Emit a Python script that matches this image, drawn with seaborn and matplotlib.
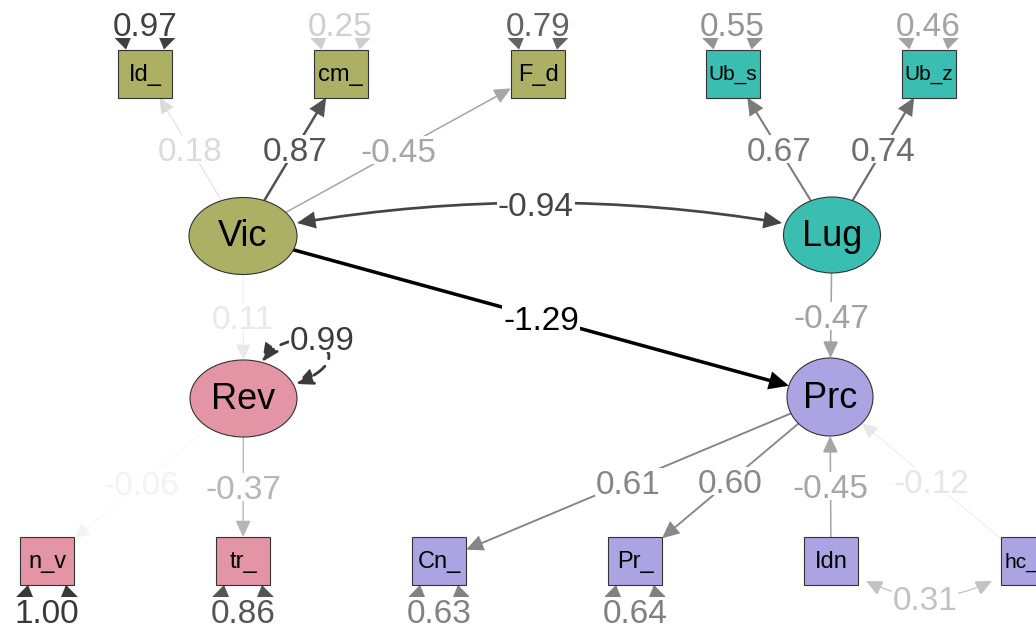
import numpy as np
import matplotlib
matplotlib.use("Agg")
import matplotlib.pyplot as plt
from matplotlib.patches import Ellipse, Rectangle, FancyArrowPatch, ArrowStyle
from matplotlib.path import Path
import seaborn as sns

# ---- model structure -------------------------------------------------------
latent_names = ["Vic", "Lug", "Rev", "Prc"]
manifest_names = ["Id_", "cm_", "F_d", "Ub_s", "Ub_z",
                  "n_v", "tr_", "Cn_", "Pr_", "Idn", "hc_"]
node_group = {"Vic": "Vic", "Id_": "Vic", "cm_": "Vic", "F_d": "Vic",
              "Lug": "Lug", "Ub_s": "Lug", "Ub_z": "Lug",
              "Rev": "Rev", "n_v": "Rev", "tr_": "Rev",
              "Prc": "Prc", "Cn_": "Prc", "Pr_": "Prc", "Idn": "Prc", "hc_": "Prc"}

# directed paths (standardised estimates)
path_from = ["Vic", "Vic", "Vic", "Lug", "Lug", "Vic", "Vic", "Lug",
             "Rev", "Rev", "Prc", "Prc", "Idn", "hc_"]
path_to = ["Id_", "cm_", "F_d", "Ub_s", "Ub_z", "Rev", "Prc", "Prc",
           "n_v", "tr_", "Cn_", "Pr_", "Prc", "Prc"]
path_est = [0.18, 0.87, -0.45, 0.67, 0.74, 0.11, -1.29, -0.47,
            -0.06, -0.37, 0.61, 0.60, -0.45, -0.12]

# covariances
cov_a = ["Vic", "Idn"]
cov_b = ["Lug", "hc_"]
cov_est = [-0.94, 0.31]

# residual variances
resid_names = ["Id_", "cm_", "F_d", "Ub_s", "Ub_z", "n_v", "tr_", "Cn_", "Pr_", "Rev"]
resid_est = [0.97, 0.25, 0.79, 0.55, 0.46, 1.00, 0.86, 0.63, 0.64, 0.99]

# ---- layout (canvas pixels, y downwards) -----------------------------------
layout = {
    "Id_": (145, 73.5), "cm_": (340.5, 73.5), "F_d": (538, 73.5),
    "Ub_s": (732.5, 73.5), "Ub_z": (928.5, 73.5),
    "Vic": (243, 236), "Lug": (832, 235), "Rev": (243.5, 398.5), "Prc": (830, 397),
    "n_v": (47, 561), "tr_": (243, 561), "Cn_": (439, 561), "Pr_": (635, 561),
    "Idn": (831, 561), "hc_": (1028, 561),
}
ell_size = {"Vic": (108, 77), "Lug": (97, 76), "Rev": (107, 77), "Prc": (86, 78)}
box_w, box_h = 54, 48
man_font = {"Ub_s": 15, "Ub_z": 15, "hc_": 15}
# the right-most box runs off the canvas; its name is set flush left inside it
man_text_left = {"hc_": 1004}

sns.set_theme(style="white")
plt.rcParams["font.family"] = ["Liberation Sans", "DejaVu Sans"]
group_order = ["Rev", "Vic", "Lug", "Prc"]
palette = dict(zip(group_order, sns.color_palette(["#E495A5", "#ABB065", "#39BEB1", "#ACA4E2"])))

fig = plt.figure(figsize=(10.36, 6.30), dpi=100)
ax = fig.add_axes([0, 0, 1, 1])
ax.set_xlim(0, 1036)
ax.set_ylim(630, 0)
ax.axis("off")

max_abs = max(abs(v) for v in path_est + cov_est + resid_est)
PT = 0.72  # points per pixel at 100 dpi


def grey(v):
    g = 1 - abs(v) / max_abs
    return (g, g, g)


def width(v):
    return (0.5 + 3.0 * abs(v) / max_abs) * PT


def boundary(name, toward):
    cx, cy = layout[name]
    dx, dy = toward[0] - cx, toward[1] - cy
    d = np.hypot(dx, dy)
    ux, uy = dx / d, dy / d
    if name in latent_names:
        a, b = ell_size[name][0] / 2, ell_size[name][1] / 2
        s = 1 / np.sqrt((ux / a) ** 2 + (uy / b) ** 2)
    else:
        sx = (box_w / 2) / abs(ux) if ux else np.inf
        sy = (box_h / 2) / abs(uy) if uy else np.inf
        s = min(sx, sy)
    return cx + ux * s, cy + uy * s


def arrow(verts, codes, style, v, dashed=False, hl=14, hw=6.5):
    st = ArrowStyle(style, head_length=hl * PT, head_width=hw * PT)
    p = FancyArrowPatch(path=Path(verts, codes), arrowstyle=st, mutation_scale=1,
                        color=grey(v), lw=width(v), zorder=1,
                        linestyle=(0, (5, 3)) if dashed else "-", joinstyle="miter")
    ax.add_patch(p)


edge_labels = []


def label(x, y, v):
    # (x, y) is the visual centre of the digits; the text anchor sits a little lower
    t = ax.text(x, y + 3.5, f"{v:.2f}", fontsize=24, color=grey(v), ha="center",
                va="center", zorder=4)
    edge_labels.append((t, x, y))


# ---- directed paths --------------------------------------------------------
for a, b, v in zip(path_from, path_to, path_est):
    p0 = boundary(a, layout[b])
    p1 = boundary(b, layout[a])
    arrow([p0, p1], [Path.MOVETO, Path.LINETO], "-|>", v)
    label((p0[0] + p1[0]) / 2, (p0[1] + p1[1]) / 2, v)

# ---- covariances -----------------------------------------------------------
cov_curves = {("Vic", "Lug"): [(297, 223), (540, 183), (782, 223)],
              ("Idn", "hc_"): [(866, 581), (929, 612), (992, 581)]}
for a, b, v in zip(cov_a, cov_b, cov_est):
    verts = cov_curves[(a, b)]
    arrow(verts, [Path.MOVETO, Path.CURVE3, Path.CURVE3], "<|-|>", v)
    mx = 0.25 * verts[0][0] + 0.5 * verts[1][0] + 0.25 * verts[2][0]
    my = 0.25 * verts[0][1] + 0.5 * verts[1][1] + 0.25 * verts[2][1]
    label(mx - 4, my + 1, v)

# ---- residual variances ----------------------------------------------------
c4 = [Path.MOVETO, Path.CURVE4, Path.CURVE4, Path.CURVE4]
for name, v in zip(resid_names, resid_est):
    if name in latent_names:
        verts = [(262, 362), (292, 318), (372, 352), (296, 384)]
        arrow(verts, c4, "<|-|>", v, dashed=True)
        label(322, 338, v)
        continue
    cx, cy = layout[name]
    sgn = -1 if cy < 300 else 1
    ey = cy + sgn * box_h / 2
    verts = [(cx - 19, ey), (cx - 28, ey + sgn * 46), (cx + 28, ey + sgn * 46), (cx + 19, ey)]
    arrow(verts, c4, "<|-|>", v, hl=12, hw=8)
    label(cx, ey + sgn * 26, v)

# white plates behind the estimate labels, sized to the digits
fig.canvas.draw()
renderer = fig.canvas.get_renderer()
for t, x, y in edge_labels:
    w = t.get_window_extent(renderer).width
    ax.add_patch(Rectangle((x - w / 2 - 1, y - 14), w + 2, 28, fc="white", ec="none",
                           zorder=3.5))

# ---- nodes -----------------------------------------------------------------
for name in latent_names:
    cx, cy = layout[name]
    w, h = ell_size[name]
    ax.add_patch(Ellipse((cx, cy), w, h, fc=palette[node_group[name]], ec="#333333",
                         lw=0.8, zorder=2))
    ax.text(cx, cy + 1, name, fontsize=26, ha="center", va="center", color="black", zorder=3)

for name in manifest_names:
    cx, cy = layout[name]
    ax.add_patch(Rectangle((cx - box_w / 2, cy - box_h / 2), box_w, box_h,
                           fc=palette[node_group[name]], ec="#333333", lw=0.8, zorder=2))
    if name in man_text_left:
        ax.text(man_text_left[name], cy + 1, name, fontsize=man_font.get(name, 17),
                ha="left", va="center", color="black", zorder=3)
    else:
        ax.text(cx, cy + 1, name, fontsize=man_font.get(name, 17), ha="center",
                va="center", color="black", zorder=3)

fig.savefig("out.png", dpi=100)
